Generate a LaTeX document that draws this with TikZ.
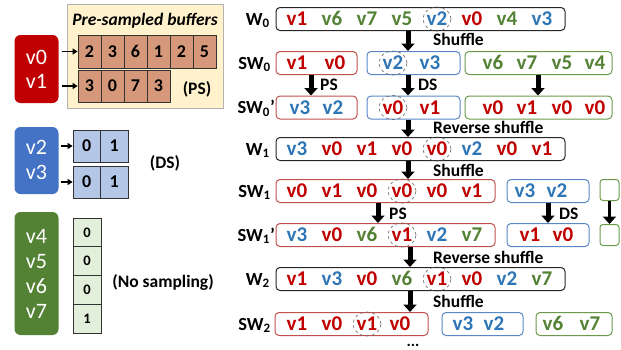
\documentclass[tikz,border=0pt]{standalone}
\usepackage{fontspec}
\setmainfont{Carlito}
\usetikzlibrary{arrows.meta,shapes.geometric}
\definecolor{dred}{HTML}{C00000}
\definecolor{dblue}{HTML}{4472C4}
\definecolor{tblue}{HTML}{2E75B6}
\definecolor{dgreen}{HTML}{548235}
\definecolor{bred}{HTML}{C0504D}
\definecolor{bblue}{HTML}{5B87C5}
\definecolor{bgreen}{HTML}{6C9A4B}
\definecolor{beige}{HTML}{FFF2CC}
\definecolor{cellr}{HTML}{D6987A}
\definecolor{cellb}{HTML}{B4C7E7}
\definecolor{cellg}{HTML}{E2EFDA}
\tikzset{
  itm/.style={font=\bfseries\fontsize{21}{21}\selectfont, inner sep=0pt, text height=13.5pt, text depth=0pt, anchor=center},
  lbl/.style={font=\bfseries\fontsize{18.5}{18.5}\selectfont, inner sep=0pt, anchor=base east},
  note/.style={font=\bfseries\fontsize{17.5}{17.5}\selectfont, inner sep=0pt, anchor=center},
  rowbox/.style={draw, rounded corners=4pt, line width=1pt, minimum height=23pt, inner sep=0pt},
  wbox/.style={rowbox, draw=black!85},
  rbox/.style={rowbox, draw=bred},
  bbox/.style={rowbox, draw=bblue},
  gbox/.style={rowbox, draw=bgreen},
  circ/.style={draw=black!60, dashed, ellipse, minimum width=28pt, minimum height=24pt, inner sep=0pt, line width=0.6pt},
  bigarr/.style={line width=5pt, -{Triangle[width=13pt,length=7.5pt]}, black},
  smarr/.style={line width=1.6pt, -{Triangle[width=6pt,length=5pt]}, black},
  vbox/.style={rounded corners=6pt, inner sep=0pt},
  vtxt/.style={font=\fontsize{22}{22}\selectfont, text=white, inner sep=0pt, anchor=center, text height=13.5pt, text depth=0pt},
  cell/.style={draw=black!80, line width=0.8pt, inner sep=0pt, font=\bfseries\fontsize{18}{18}\selectfont},
}
\newcommand{\itm}[5]{\node[itm,text=#4] (#1) at (#2,#3) {#5};}
\begin{document}
\begin{tikzpicture}[x=1pt,y=-1pt]
\useasboundingbox (0,0) rectangle (621,349);

% ---------- left panel: PS ----------
\node[fill=beige, draw=black!30, line width=0.6pt, minimum width=156pt, minimum height=104pt, inner sep=0pt] (bg) at (145,56) {};
\node[font=\bfseries\itshape\fontsize{17.5}{17.5}\selectfont, inner sep=0pt] (title) at (145,21) {Pre-sampled buffers};
\node[vbox, fill=dred, minimum width=44pt, minimum height=68pt] (redv) at (36.5,69) {};
\node[vtxt] (tv0) at (36.5,58) {v0};
\node[vtxt] (tv1) at (36.5,82) {v1};
\foreach \d [count=\i from 0] in {2,3,6,1,2,5}
  \node[cell, fill=cellr, minimum width=23pt, minimum height=33pt] (pa\i) at (89.5+23*\i,51.5) {\d};
\foreach \d [count=\i from 0] in {3,0,7,3}
  \node[cell, fill=cellr, minimum width=23pt, minimum height=32pt] (pb\i) at (89.5+23*\i,86) {\d};
\node[note] (ps) at (197,89) {(PS)};
\draw[smarr] (redv.east |- pa0) ++(3,0) coordinate (sa) (sa) -- (pa0.west);
\draw[smarr] (redv.east |- pb0) ++(3,0) coordinate (sb) (sb) -- (pb0.west);

% ---------- left panel: DS ----------
\node[vbox, fill=dblue, minimum width=44pt, minimum height=67pt] (bluev) at (36.5,160.5) {};
\node[vtxt] (tv2) at (36.5,148) {v2};
\node[vtxt] (tv3) at (36.5,173) {v3};
\foreach \d [count=\i from 0] in {0,1}
  \node[cell, fill=cellb, minimum width=27.5pt, minimum height=32pt] (da\i) at (86.75+27.5*\i,146) {\d};
\foreach \d [count=\i from 0] in {0,1}
  \node[cell, fill=cellb, minimum width=27.5pt, minimum height=32pt] (db\i) at (86.75+27.5*\i,182) {\d};
\node[note] (ds) at (165,163) {(DS)};
\draw[smarr] (bluev.east |- da0) ++(2,0) coordinate (sc) (sc) -- (da0.west);
\draw[smarr] (bluev.east |- db0) ++(2,0) coordinate (sd) (sd) -- (db0.west);

% ---------- left panel: no sampling ----------
\node[vbox, fill=dgreen, minimum width=44pt, minimum height=123pt] (greenv) at (36.5,273.5) {};
\node[vtxt] (tv4) at (36.5,237) {v4};
\node[vtxt] (tv5) at (36.5,262) {v5};
\node[vtxt] (tv6) at (36.5,287) {v6};
\node[vtxt] (tv7) at (36.5,312) {v7};
\foreach \d [count=\i from 0] in {0,0,0,1}
  \node[cell, fill=cellg, minimum width=28pt, minimum height=28.75pt, font=\bfseries\fontsize{14.5}{14.5}\selectfont] (ga\i) at (87,232.4+28.75*\i) {\d};
\node[note] (ns) at (163,282) {(No sampling)};

% ---------- right panel ----------
% W0
\node[lbl] (lw0) at (270,25) {W\textsubscript{0}};
\node[wbox, minimum width=289pt] (w0) at (420.5,19) {};
\itm{w0a}{297}{19}{dred}{v1}
\itm{w0b}{332}{19}{dgreen}{v6}
\itm{w0c}{367}{19}{dgreen}{v7}
\itm{w0d}{402}{19}{dgreen}{v5}
\itm{w0e}{437}{19}{tblue}{v2}
\itm{w0f}{472}{19}{dred}{v0}
\itm{w0g}{507}{19}{dgreen}{v4}
\itm{w0h}{542}{19}{tblue}{v3}
\node[circ] (cw0) at (w0e) {};

% SW0
\node[lbl] (lsw0) at (271,69) {SW\textsubscript{0}};
\node[rbox, minimum width=81pt] (sw0r) at (316.5,63) {};
\node[bbox, minimum width=93pt] (sw0b) at (413.5,63) {};
\node[gbox, minimum width=147pt] (sw0g) at (538.5,63) {};
\itm{sw0a}{297}{63}{dred}{v1}
\itm{sw0c}{335}{63}{dred}{v0}
\itm{sw0d}{393}{63}{tblue}{v2}
\itm{sw0e}{430}{63}{tblue}{v3}
\itm{sw0f}{493}{63}{dgreen}{v6}
\itm{sw0g1}{527}{63}{dgreen}{v7}
\itm{sw0h}{562}{63}{dgreen}{v5}
\itm{sw0i}{595}{63}{dgreen}{v4}
\node[circ] (csw0) at (sw0d) {};

% SW0'
\node[lbl] (lsw0p) at (275,113.5) {SW\textsubscript{0}’};
\node[rbox, minimum width=81pt] (sp0r) at (316.5,107.5) {};
\node[bbox, minimum width=93pt] (sp0b) at (413.5,107.5) {};
\node[gbox, minimum width=147pt] (sp0g) at (538.5,107.5) {};
\itm{sp0a}{300}{107.5}{tblue}{v3}
\itm{sp0c}{333}{107.5}{tblue}{v2}
\itm{sp0d}{393}{107.5}{dred}{v0}
\itm{sp0e}{430}{107.5}{dred}{v1}
\itm{sp0f}{493}{107.5}{dred}{v0}
\itm{sp0g1}{527}{107.5}{dred}{v1}
\itm{sp0h}{562}{107.5}{dred}{v0}
\itm{sp0i}{595}{107.5}{dred}{v0}
\node[circ] (csp0) at (sp0d) {};

% W1
\node[lbl] (lw1) at (270,155) {W\textsubscript{1}};
\node[wbox, minimum width=289pt] (w1) at (420.5,149) {};
\itm{w1a}{297}{149}{tblue}{v3}
\itm{w1b}{332}{149}{dred}{v0}
\itm{w1c}{367}{149}{dred}{v1}
\itm{w1d}{402}{149}{dred}{v0}
\itm{w1e}{437}{149}{dred}{v0}
\itm{w1f}{472}{149}{tblue}{v2}
\itm{w1g}{507}{149}{dred}{v0}
\itm{w1h}{542}{149}{dred}{v1}
\node[circ] (cw1) at (w1e) {};

% SW1
\node[lbl] (lsw1) at (271,197) {SW\textsubscript{1}};
\node[rbox, minimum width=219pt] (sw1r) at (385.5,191) {};
\node[bbox, minimum width=82pt] (sw1b) at (548,191) {};
\node[gbox, minimum width=19pt, minimum height=21pt, rounded corners=3pt] (sw1g) at (609.5,190) {};
\itm{sw1a}{297}{191}{dred}{v0}
\itm{sw1c}{332}{191}{dred}{v1}
\itm{sw1d}{367}{191}{dred}{v0}
\itm{sw1e}{402}{191}{dred}{v0}
\itm{sw1f}{437}{191}{dred}{v0}
\itm{sw1g1}{472}{191}{dred}{v1}
\itm{sw1h}{525}{191}{tblue}{v3}
\itm{sw1i}{557}{191}{tblue}{v2}
\node[circ] (csw1) at (sw1e) {};

% SW1'
\node[lbl] (lsw1p) at (275,241) {SW\textsubscript{1}’};
\node[rbox, minimum width=219pt] (sp1r) at (385.5,235) {};
\node[bbox, minimum width=82pt] (sp1b) at (548,235) {};
\node[gbox, minimum width=19pt, minimum height=21pt, rounded corners=3pt] (sp1g) at (609.5,235) {};
\itm{sp1a}{297}{235}{tblue}{v3}
\itm{sp1c}{332}{235}{dred}{v0}
\itm{sp1d}{367}{235}{dgreen}{v6}
\itm{sp1e}{402}{235}{dred}{v1}
\itm{sp1f}{437}{235}{tblue}{v2}
\itm{sp1g1}{472}{235}{dgreen}{v7}
\itm{sp1h}{530}{235}{dred}{v1}
\itm{sp1i}{563}{235}{dred}{v0}
\node[circ] (csp1) at (sp1e) {};

% W2
\node[lbl] (lw2) at (270,285) {W\textsubscript{2}};
\node[wbox, minimum width=289pt] (w2) at (420.5,279) {};
\itm{w2a}{297}{279}{dred}{v1}
\itm{w2b}{332}{279}{tblue}{v3}
\itm{w2c}{367}{279}{dred}{v0}
\itm{w2d}{402}{279}{dgreen}{v6}
\itm{w2e}{437}{279}{dred}{v1}
\itm{w2f}{472}{279}{dred}{v0}
\itm{w2g}{507}{279}{tblue}{v2}
\itm{w2h}{542}{279}{dgreen}{v7}
\node[circ] (cw2) at (w2e) {};

% SW2
\node[lbl] (lsw2) at (271,330) {SW\textsubscript{2}};
\node[rbox, minimum width=153pt] (sw2r) at (351.5,324) {};
\node[bbox, minimum width=81pt] (sw2b) at (482.5,324) {};
\node[gbox, minimum width=76pt] (sw2g) at (574,324) {};
\itm{sw2a}{297}{324}{dred}{v1}
\itm{sw2c}{332}{324}{dred}{v0}
\itm{sw2d}{367}{324}{dred}{v1}
\itm{sw2e}{400}{324}{dred}{v0}
\itm{sw2f}{463}{324}{tblue}{v3}
\itm{sw2g1}{494}{324}{tblue}{v2}
\itm{sw2h}{553}{324}{dgreen}{v6}
\itm{sw2i}{590}{324}{dgreen}{v7}
\node[circ] (csw2) at (sw2d) {};

\node[font=\bfseries\fontsize{16}{16}\selectfont, inner sep=0pt, anchor=base] (dots) at (413,346) {...};

% ---------- arrows ----------
\coordinate (xa) at (408,0);
\coordinate (xb) at (311,0);
\coordinate (xc) at (538,0);
\coordinate (xd) at (378,0);
\coordinate (xe) at (548,0);
\coordinate (xf) at (609.5,0);
\coordinate (xg) at (410,0);
\draw[bigarr] (w0.south -| xa) -- (sw0b.north -| xa);
\draw[bigarr] (sw0r.south -| xb) -- (sp0r.north -| xb);
\draw[bigarr] (sw0b.south -| xa) -- (sp0b.north -| xa);
\draw[bigarr] (sw0g.south -| xc) -- (sp0g.north -| xc);
\draw[bigarr] (sp0b.south -| xa) -- (w1.north -| xa);
\draw[bigarr] (w1.south -| xa) -- (sw1r.north -| xa);
\draw[bigarr] (sw1r.south -| xd) -- (sp1r.north -| xd);
\draw[bigarr] (sw1b.south -| xe) -- (sp1b.north -| xe);
\draw[bigarr, line width=3.5pt] (sw1g.south) -- (sp1g.north);
\draw[bigarr] (sp1r.south -| xg) -- (w2.north -| xg);
\draw[bigarr] (w2.south -| xg) -- (sw2r.north -| xg);

% arrow labels
\node[note, anchor=west] (l1) at (433,39) {Shuffle};
\node[note, anchor=west] (l2) at (320,85) {PS};
\node[note, anchor=west] (l3) at (418,85) {DS};
\node[note, anchor=west] (l4) at (433,127) {Reverse shuffle};
\node[note, anchor=west] (l5) at (433,170) {Shuffle};
\node[note, anchor=west] (l6) at (389,214) {PS};
\node[note, anchor=west] (l7) at (559,214) {DS};
\node[note, anchor=west] (l8) at (433,257) {Reverse shuffle};
\node[note, anchor=west] (l9) at (433,301) {Shuffle};
\end{tikzpicture}
\end{document}
